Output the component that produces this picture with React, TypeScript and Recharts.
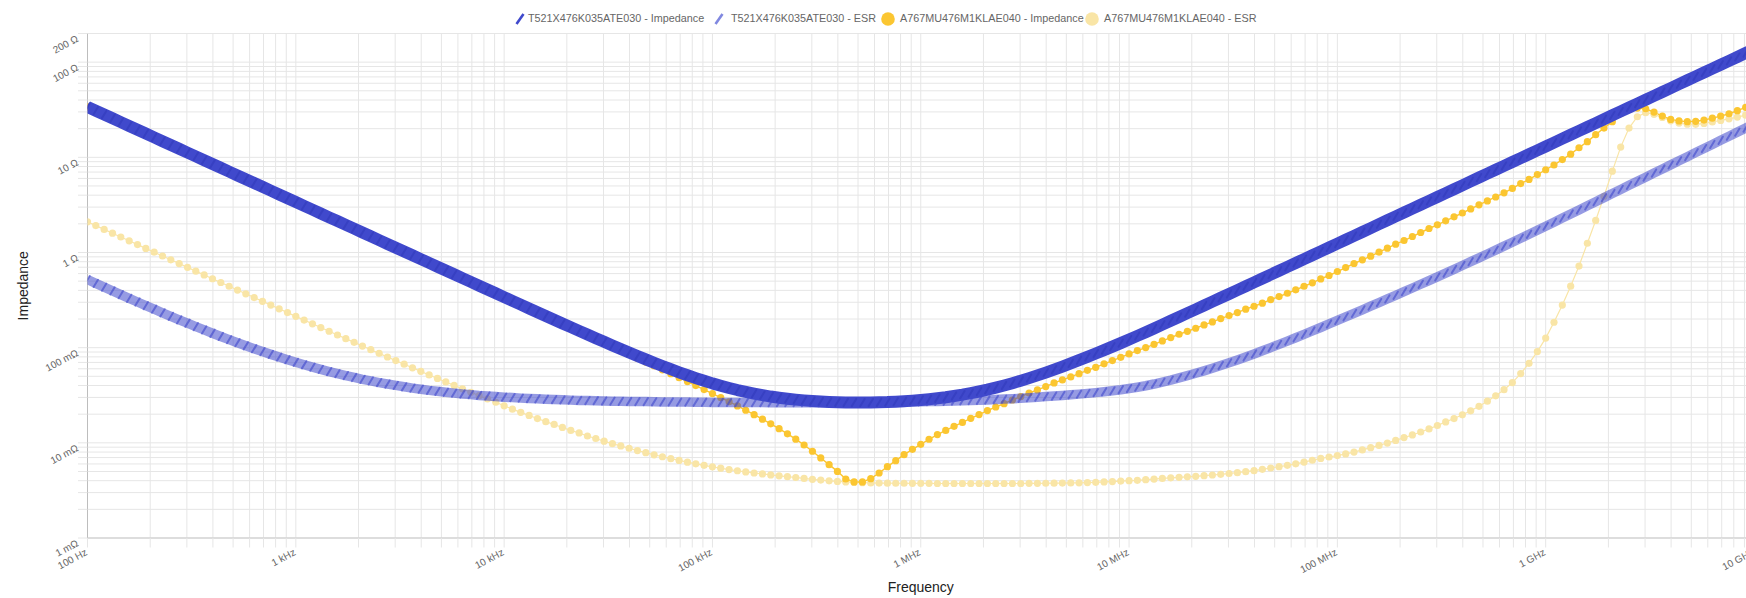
import React from "react"
import { LineChart, Line, XAxis, YAxis, CartesianGrid } from "recharts"

// Sweep grid: 25 log-spaced points per decade, 100 Hz .. 10 GHz
const DECADE_STEPS = [
  1, 1.096, 1.202, 1.318, 1.445, 1.585, 1.738, 1.905, 2.089, 2.291, 2.512, 2.754, 3.02,
  3.311, 3.631, 3.981, 4.365, 4.786, 5.248, 5.754, 6.31, 6.918, 7.586, 8.318, 9.12,
]
const DECADES = [1e2, 1e3, 1e4, 1e5, 1e6, 1e7, 1e8, 1e9]
const FREQUENCIES = [...DECADES.flatMap((d) => DECADE_STEPS.map((s) => d * s)), 1e10]

// |Z| and ESR in ohms, one row per decade
const T521_IMPEDANCE = [
  33.86, 30.89, 28.17, 25.7, 23.43, 21.36, 19.48, 17.77, 16.21, 14.78, 13.48, 12.29, 11.21, 10.23, 9.33, 8.51, 7.76, 7.08, 6.45, 5.89, 5.37, 4.9, 4.47, 4.07, 3.71,
  3.39, 3.09, 2.82, 2.57, 2.34, 2.14, 1.95, 1.78, 1.62, 1.48, 1.349, 1.23, 1.122, 1.024, 0.934, 0.852, 0.777, 0.709, 0.647, 0.59, 0.538, 0.491, 0.448, 0.409, 0.373,
  0.3398, 0.3102, 0.2831, 0.2584, 0.2359, 0.2153, 0.1967, 0.1797, 0.1643, 0.1501, 0.1373, 0.1257, 0.1151, 0.1055, 0.0968, 0.0889, 0.0817, 0.0753, 0.0694, 0.0641, 0.0594, 0.0551, 0.0513, 0.0479, 0.0449,
  0.04215, 0.03981, 0.03774, 0.03586, 0.03428, 0.03291, 0.03174, 0.03064, 0.02978, 0.02905, 0.02843, 0.02792, 0.0275, 0.02716, 0.02689, 0.02668, 0.02654, 0.02654, 0.0265, 0.02651, 0.02668, 0.02679, 0.02706, 0.02738, 0.02777,
  0.02823, 0.02876, 0.0294, 0.03013, 0.03106, 0.03205, 0.03326, 0.03462, 0.03617, 0.038, 0.04005, 0.04235, 0.04492, 0.04787, 0.05113, 0.05475, 0.05878, 0.06329, 0.0683, 0.07381, 0.07995, 0.08673, 0.0942, 0.1025, 0.1116,
  0.1217, 0.133, 0.1455, 0.1593, 0.1747, 0.1915, 0.21, 0.2304, 0.2527, 0.2773, 0.3043, 0.334, 0.3666, 0.4025, 0.442, 0.4853, 0.5329, 0.5852, 0.6428, 0.7059, 0.7754, 0.8516, 0.9355, 1.028, 1.129,
  1.24, 1.362, 1.496, 1.643, 1.805, 1.984, 2.179, 2.393, 2.629, 2.889, 3.174, 3.486, 3.831, 4.208, 4.623, 5.079, 5.58, 6.13, 6.735, 7.399, 8.13, 8.931, 9.813, 10.78, 11.84,
  13.01, 14.29, 15.71, 17.26, 18.96, 20.84, 22.9, 25.15, 27.63, 30.37, 33.37, 36.65, 40.27, 44.25, 48.62, 53.41, 58.68, 64.47, 70.84, 77.83, 85.52, 93.95, 103.2, 113.4, 124.6,
  136.9,
]

const T521_ESR = [
  0.519, 0.473, 0.432, 0.395, 0.361, 0.33, 0.302, 0.2765, 0.2535, 0.2325, 0.2135, 0.1962, 0.1806, 0.1664, 0.1535, 0.1417, 0.1311, 0.1214, 0.1127, 0.1047, 0.0975, 0.0909, 0.085, 0.0796, 0.0747,
  0.0702, 0.0661, 0.0625, 0.0591, 0.0561, 0.0534, 0.0509, 0.0486, 0.0465, 0.0447, 0.043, 0.0415, 0.0401, 0.0388, 0.0376, 0.0366, 0.0356, 0.0348, 0.034, 0.0333, 0.0326, 0.0321, 0.0315, 0.0311, 0.0306,
  0.0302, 0.0299, 0.0295, 0.0292, 0.029, 0.0287, 0.0285, 0.0283, 0.0281, 0.0279, 0.0278, 0.0277, 0.0275, 0.0274, 0.0273, 0.0272, 0.0271, 0.0271, 0.027, 0.0269, 0.0269, 0.0268, 0.0268, 0.0267, 0.0267,
  0.0266, 0.0266, 0.0266, 0.0265, 0.0265, 0.0265, 0.0265, 0.0264, 0.0264, 0.0264, 0.0264, 0.0264, 0.0264, 0.0264, 0.0264, 0.0264, 0.0264, 0.0265, 0.0265, 0.0265, 0.0266, 0.0266, 0.0267, 0.0268, 0.0269,
  0.027, 0.0271, 0.0272, 0.0273, 0.0275, 0.0276, 0.0278, 0.028, 0.0282, 0.0285, 0.0288, 0.0291, 0.0294, 0.0298, 0.0302, 0.0306, 0.031, 0.0315, 0.032, 0.0325, 0.0331, 0.0337, 0.0344, 0.0352, 0.0361,
  0.0372, 0.0384, 0.0398, 0.0415, 0.0435, 0.0456, 0.0481, 0.0508, 0.0538, 0.0571, 0.0608, 0.0649, 0.0693, 0.0743, 0.0798, 0.0859, 0.0927, 0.1001, 0.1083, 0.1172, 0.1271, 0.1378, 0.1498, 0.1629, 0.1774,
  0.1932, 0.2104, 0.2293, 0.25, 0.2729, 0.2979, 0.3251, 0.3548, 0.3877, 0.4236, 0.4634, 0.507, 0.5553, 0.6081, 0.6659, 0.7302, 0.8006, 0.879, 0.9649, 1.06, 1.166, 1.282, 1.411, 1.554, 1.712,
  1.888, 2.082, 2.299, 2.538, 2.803, 3.094, 3.417, 3.772, 4.165, 4.598, 5.077, 5.605, 6.188, 6.832, 7.543, 8.328, 9.194, 10.15, 11.21, 12.37, 13.66, 15.09, 16.66, 18.39, 20.3,
  22.41,
]

const A767_IMPEDANCE = [
  33.93, 30.95, 28.22, 25.74, 23.47, 21.4, 19.52, 17.8, 16.24, 14.81, 13.51, 12.32, 11.23, 10.25, 9.34, 8.52, 7.77, 7.09, 6.46, 5.9, 5.38, 4.9, 4.47, 4.08, 3.72,
  3.393, 3.095, 2.82, 2.57, 2.35, 2.14, 1.95, 1.78, 1.62, 1.481, 1.351, 1.232, 1.123, 1.025, 0.934, 0.852, 0.777, 0.709, 0.6465, 0.59, 0.538, 0.4906, 0.4475, 0.408, 0.372,
  0.3394, 0.3095, 0.2823, 0.2574, 0.2348, 0.214, 0.1952, 0.178, 0.1624, 0.148, 0.135, 0.123, 0.1122, 0.1023, 0.0932, 0.085, 0.0774, 0.0705, 0.0642, 0.0585, 0.0532, 0.0484, 0.044, 0.04, 0.0363,
  0.03296, 0.02986, 0.02702, 0.02441, 0.022, 0.01977, 0.01772, 0.01582, 0.01407, 0.01244, 0.01093, 0.00949, 0.00816, 0.00694, 0.0059, 0.00501, 0.00417, 0.00388, 0.00388, 0.0042, 0.00482, 0.00562, 0.0065, 0.00751, 0.00854,
  0.00964, 0.0109, 0.0122, 0.0135, 0.0149, 0.0164, 0.0181, 0.0198, 0.0218, 0.0238, 0.0258, 0.0282, 0.0306, 0.0334, 0.036, 0.039, 0.0426, 0.0458, 0.0493, 0.0533, 0.0578, 0.0622, 0.0677, 0.0731, 0.0792,
  0.0859, 0.0931, 0.1002, 0.1084, 0.1178, 0.1276, 0.1384, 0.1486, 0.16, 0.1734, 0.1866, 0.2023, 0.2175, 0.2339, 0.2535, 0.2723, 0.2931, 0.32, 0.344, 0.373, 0.405, 0.442, 0.48, 0.528, 0.573,
  0.631, 0.695, 0.766, 0.837, 0.914, 1.007, 1.109, 1.222, 1.336, 1.472, 1.622, 1.787, 1.954, 2.153, 2.372, 2.6, 2.87, 3.17, 3.48, 3.83, 4.24, 4.71, 5.3, 5.86, 6.58,
  7.4, 8.3, 9.46, 10.8, 12.6, 14.6, 17.3, 20.3, 23.7, 28.7, 31.8, 32.9, 32.4, 29.9, 27.1, 25, 24.1, 23.7, 23.9, 24.6, 25.8, 27.1, 28.7, 30.9, 33.5,
  36.3,
]

const A767_ESR = [
  2.1, 1.916, 1.748, 1.594, 1.455, 1.326, 1.21, 1.104, 1.007, 0.919, 0.838, 0.765, 0.698, 0.637, 0.581, 0.53, 0.484, 0.442, 0.403, 0.368, 0.336, 0.307, 0.28, 0.256, 0.2335,
  0.2133, 0.1949, 0.1781, 0.1627, 0.1488, 0.1359, 0.1243, 0.1137, 0.104, 0.0952, 0.0871, 0.0798, 0.0731, 0.067, 0.0614, 0.0564, 0.0517, 0.0475, 0.0436, 0.0401, 0.0369, 0.034, 0.0313, 0.0289, 0.0267,
  0.0245, 0.0226, 0.0209, 0.0194, 0.018, 0.0167, 0.0156, 0.0145, 0.0135, 0.0127, 0.0118, 0.0111, 0.0104, 0.0098, 0.00927, 0.00877, 0.0083, 0.00788, 0.00749, 0.00714, 0.00682, 0.00653, 0.00626, 0.00602, 0.0058,
  0.0056, 0.00541, 0.00524, 0.00509, 0.00495, 0.00482, 0.00471, 0.0046, 0.0045, 0.00441, 0.00432, 0.00423, 0.00414, 0.00406, 0.00399, 0.00393, 0.00388, 0.00384, 0.00381, 0.00379, 0.00378, 0.00377, 0.00376, 0.00376, 0.00375,
  0.00375, 0.00375, 0.00374, 0.00374, 0.00374, 0.00374, 0.00374, 0.00374, 0.00374, 0.00374, 0.00374, 0.00374, 0.00374, 0.00375, 0.00375, 0.00376, 0.00377, 0.00378, 0.00379, 0.0038, 0.00382, 0.00385, 0.00388, 0.00392, 0.00396,
  0.004, 0.00404, 0.0041, 0.00416, 0.00423, 0.00429, 0.00434, 0.00439, 0.00445, 0.00452, 0.00459, 0.00467, 0.00476, 0.00486, 0.00498, 0.0051, 0.00527, 0.00544, 0.00561, 0.0058, 0.00602, 0.00628, 0.00656, 0.00685, 0.0071,
  0.00735, 0.00765, 0.008, 0.00842, 0.0089, 0.0094, 0.00995, 0.0106, 0.01135, 0.0121, 0.013, 0.014, 0.0152, 0.0166, 0.018, 0.0197, 0.0217, 0.0242, 0.0274, 0.0312, 0.0362, 0.043, 0.0534, 0.0685, 0.091,
  0.126, 0.185, 0.28, 0.443, 0.72, 1.25, 2.17, 3.9, 7.16, 12.8, 20.3, 26.7, 29.4, 28.3, 26.2, 24.2, 22.9, 22.3, 22.2, 22.7, 23.5, 24.4, 25.4, 26.5, 27.7,
  29.0,
]

const SERIES_NAMES = [
  "T521X476K035ATE030 - Impedance",
  "T521X476K035ATE030 - ESR",
  "A767MU476M1KLAE040 - Impedance",
  "A767MU476M1KLAE040 - ESR",
]

const MULTIPLES = [1, 2, 3, 4, 5, 6, 7, 8, 9]
const X_TICKS = [...DECADES.flatMap((d) => MULTIPLES.map((m) => d * m)), 1e10]
const Y_TICKS = [...[1e-3, 1e-2, 1e-1, 1, 10].flatMap((d) => MULTIPLES.map((m) => d * m)), 100, 200]

const X_TICK_LABELS: [number, string][] = [
  [1e2, "100 Hz"], [1e3, "1 kHz"], [1e4, "10 kHz"], [1e5, "100 kHz"], [1e6, "1 MHz"],
  [1e7, "10 MHz"], [1e8, "100 MHz"], [1e9, "1 GHz"], [1e10, "10 GHz"],
]
const Y_TICK_LABELS: [number, string][] = [
  [1e-3, "1 mΩ"], [1e-2, "10 mΩ"], [1e-1, "100 mΩ"], [1, "1 Ω"], [10, "10 Ω"], [100, "100 Ω"], [200, "200 Ω"],
]

const rows = FREQUENCIES.map((f, i) => ({
  f,
  t521Z: T521_IMPEDANCE[i],
  t521Esr: T521_ESR[i],
  a767Z: A767_IMPEDANCE[i],
  a767Esr: A767_ESR[i],
}))

const FONT = "'Liberation Sans', Arial, Helvetica, sans-serif"
const GRID = "#e6e6e6"
const BLUE = "#4049cc"
const BLUE_SOFT = "rgba(64, 72, 204, 0.55)"
const YELLOW = "#fbc631"
const YELLOW_SOFT = "#f9e5a6"
const LABEL_ANGLE = -28

const CHART_W = 1772
const CHART_H = 598
const MARGIN = { top: 33.5, right: 18, bottom: 10, left: 7.5 }
const X_DOMAIN = [100, 1e10]
const Y_DOMAIN = [0.001, 200]

function findLabel(list: [number, string][], v: number) {
  const hit = list.find(([t]) => Math.abs(t / v - 1) < 1e-9)
  return hit ? hit[1] : ""
}

function XTick({ x, y, payload }: any) {
  const label = findLabel(X_TICK_LABELS, payload.value)
  if (!label) return null
  const bx = x + 0.5
  const by = y + 5
  return (
    <text x={bx} y={by} transform={`rotate(${LABEL_ANGLE} ${bx} ${by})`} textAnchor="end"
      fontSize={10} fill="#666" fontFamily={FONT}>
      {label}
    </text>
  )
}

function YTick({ x, y, payload }: any) {
  const label = findLabel(Y_TICK_LABELS, payload.value)
  if (!label) return null
  const bx = x + 3
  const by = y + 7.5
  return (
    <text x={bx} y={by} transform={`rotate(${LABEL_ANGLE} ${bx} ${by})`} textAnchor="end"
      fontSize={10} fill="#666" fontFamily={FONT}>
      {label}
    </text>
  )
}

function XTitle({ viewBox }: any) {
  return (
    <text x={viewBox.x + viewBox.width / 2} y={viewBox.y + viewBox.height + 3.5} textAnchor="middle"
      fontSize={14} fill="#222" fontFamily={FONT}>
      Frequency
    </text>
  )
}

function YTitle({ viewBox }: any) {
  const cx = viewBox.x + 20.5
  const cy = viewBox.y + viewBox.height / 2
  return (
    <text x={cx} y={cy} transform={`rotate(-90 ${cx} ${cy})`} textAnchor="middle"
      fontSize={14} fill="#222" fontFamily={FONT}>
      Impedance
    </text>
  )
}

// point marker drawn as a short slanted stroke
function slashDot(color: string) {
  return (props: any) => {
    const { cx, cy, index } = props
    if (cx == null || cy == null) return <g key={index} />
    return (
      <line key={index} x1={cx - 2.2} y1={cy + 3.6} x2={cx + 2.2} y2={cy - 3.6}
        stroke={color} strokeWidth={2} strokeLinecap="round" />
    )
  }
}

const LEGEND_ITEMS = [
  { name: SERIES_NAMES[0], icon: "slash", color: BLUE, iconX: 520, textX: 528 },
  { name: SERIES_NAMES[1], icon: "slash", color: "#8088e0", iconX: 719, textX: 731 },
  { name: SERIES_NAMES[2], icon: "dot", color: YELLOW, iconX: 888, textX: 900 },
  { name: SERIES_NAMES[3], icon: "dot", color: YELLOW_SOFT, iconX: 1092, textX: 1104 },
]

function ChartLegend() {
  return (
    <div style={{ position: "absolute", left: 0, top: 0, width: 1746, height: 30, pointerEvents: "none" }}>
      {LEGEND_ITEMS.map((it) => (
        <React.Fragment key={it.name}>
          <svg width={16} height={16} style={{ position: "absolute", left: it.iconX - 8, top: 10.5 }}>
            {it.icon === "slash" ? (
              <line x1={4.5} y1={13} x2={11.5} y2={3} stroke={it.color} strokeWidth={2.6} />
            ) : (
              <circle cx={8} cy={8} r={6.8} fill={it.color} />
            )}
          </svg>
          <span style={{
            position: "absolute", left: it.textX, top: 11, lineHeight: "15px",
            fontSize: 10.8, color: "#666", fontFamily: FONT, whiteSpace: "nowrap",
          }}>
            {it.name}
          </span>
        </React.Fragment>
      ))}
    </div>
  )
}

// invisible axes so an overlay layer shares the base layer's plot area
function hiddenAxes() {
  return [
    <XAxis key="x" dataKey="f" type="number" scale="log" domain={X_DOMAIN} allowDataOverflow
      height={50} tick={false} tickLine={false} axisLine={false} />,
    <YAxis key="y" type="number" scale="log" domain={Y_DOMAIN} allowDataOverflow
      width={80} tick={false} tickLine={false} axisLine={false} />,
  ]
}

const layer: React.CSSProperties = { position: "absolute", left: 0, top: 0 }

export default function App() {
  return (
    <div style={{ position: "absolute", left: 0, top: 0, width: 1746, height: 598, overflow: "hidden", background: "#fff" }}>
      {/* base layer: grid, axes and the A767 curves */}
      <div style={layer}>
        <LineChart width={CHART_W} height={CHART_H} data={rows} margin={MARGIN}>
          <CartesianGrid stroke={GRID} />
          <XAxis dataKey="f" type="number" scale="log" domain={X_DOMAIN} ticks={X_TICKS}
            interval={0} allowDataOverflow height={50} tickSize={9.5}
            tickLine={{ stroke: GRID }} axisLine={{ stroke: "#d6d6d6", strokeWidth: 1.5 }}
            tick={<XTick />} label={<XTitle />} />
          <YAxis type="number" scale="log" domain={Y_DOMAIN} ticks={Y_TICKS}
            interval={0} allowDataOverflow width={80} tickSize={9.5}
            tickLine={{ stroke: GRID }} axisLine={{ stroke: "#bdbdbd" }}
            tick={<YTick />} label={<YTitle />} />
          <Line dataKey="a767Esr" name={SERIES_NAMES[3]} type="linear" stroke={YELLOW_SOFT}
            strokeWidth={1.2} dot={{ r: 3.6, fill: YELLOW_SOFT, stroke: "none" }}
            activeDot={false} isAnimationActive={false} />
          <Line dataKey="a767Z" name={SERIES_NAMES[2]} type="linear" stroke={YELLOW}
            strokeWidth={1.4} dot={{ r: 3.6, fill: YELLOW, stroke: "none" }}
            activeDot={false} isAnimationActive={false} />
        </LineChart>
      </div>
      {/* T521 ESR band above the A767 markers */}
      <div style={layer}>
        <LineChart width={CHART_W} height={CHART_H} data={rows} margin={MARGIN}>
          {hiddenAxes()}
          <Line dataKey="t521Esr" name={SERIES_NAMES[1]} type="linear" stroke={BLUE_SOFT}
            strokeWidth={9.5} strokeLinejoin="round" dot={slashDot("rgba(64, 72, 204, 0.6)")}
            activeDot={false} isAnimationActive={false} />
        </LineChart>
      </div>
      {/* T521 impedance band on top */}
      <div style={layer}>
        <LineChart width={CHART_W} height={CHART_H} data={rows} margin={MARGIN}>
          {hiddenAxes()}
          <Line dataKey="t521Z" name={SERIES_NAMES[0]} type="linear" stroke={BLUE}
            strokeWidth={12} strokeLinejoin="round" dot={slashDot("#3740c2")}
            activeDot={false} isAnimationActive={false} />
        </LineChart>
      </div>
      <ChartLegend />
    </div>
  )
}
